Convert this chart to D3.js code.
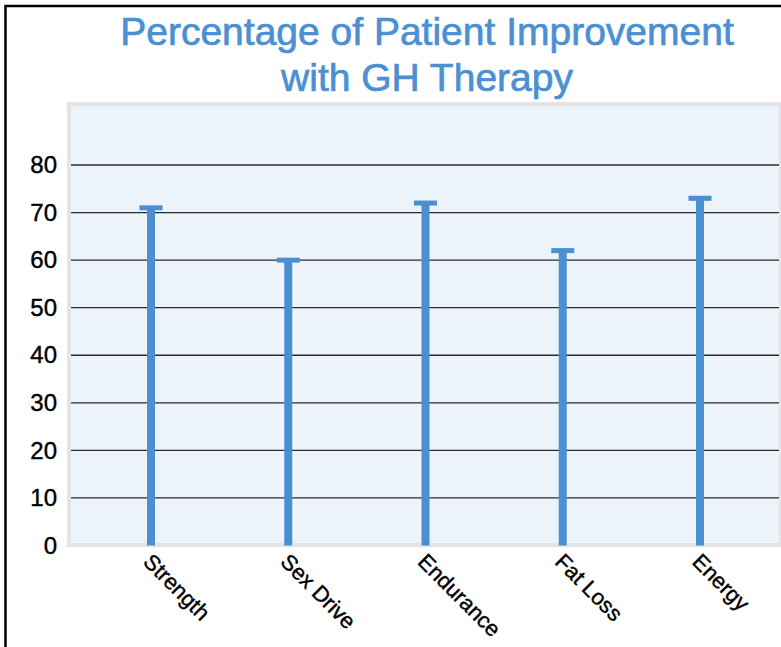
<!DOCTYPE html>
<html>
<head>
<meta charset="utf-8">
<script src="https://cdn.jsdelivr.net/npm/d3@7"></script>
<style>
  body { margin: 0; background: #fff; }
  svg { display: block; font-family: "Liberation Sans", Arial, Helvetica, sans-serif; }
</style>
</head>
<body>
<div id="chart"></div>
<script>
var categories = ["Strength", "Sex Drive", "Endurance", "Fat Loss", "Energy"];
var improvement = [71, 60, 72, 62, 73];
var yTicks = [0, 10, 20, 30, 40, 50, 60, 70, 80];
var titleLines = ["Percentage of Patient Improvement", "with GH Therapy"];

var fullwidth = 781,
    fullheight = 647;

var svg = d3.select("#chart")
            .append("svg")
            .attr("width", fullwidth)
            .attr("height", fullheight);

// outer frame (only left + top edges fall inside the picture)
svg.append("rect")
    .attr("x", 5.5)
    .attr("y", 6)
    .attr("width", 900)
    .attr("height", 800)
    .attr("fill", "none")
    .attr("stroke", "#000")
    .attr("stroke-width", 2.5);

// title
svg.append("g")
    .selectAll("text")
    .data(titleLines)
    .enter()
    .append("text")
    .attr("x", 427)
    .attr("y", function(d, i) { return 45 + i * 46; })
    .attr("text-anchor", "middle")
    .attr("fill", "#4a90d2")
    .attr("stroke", "#4a90d2")
    .attr("stroke-width", 0.7)
    .style("font-size", "39px")
    .text(function(d) { return d; });

// plot background
svg.append("rect")
    .attr("x", 69)
    .attr("y", 104)
    .attr("width", 712)
    .attr("height", 441)
    .attr("fill", "#edf3fa")
    .attr("stroke", "#e4e4e4")
    .attr("stroke-width", 4);

var yScale = d3.scaleLinear()
                .domain([0, 80])
                .range([545.5, 165]);

var xScale = d3.scalePoint()
                .domain(categories)
                .range([151, 700]);

// gridlines
svg.append("g")
    .selectAll("line")
    .data(yTicks.filter(function(d) { return d > 0; }))
    .enter()
    .append("line")
    .attr("x1", 71)
    .attr("x2", 779)
    .attr("y1", function(d) { return yScale(d); })
    .attr("y2", function(d) { return yScale(d); })
    .attr("stroke", "#2b2b2b")
    .attr("stroke-width", 1.3);

// y axis labels
var yAxis = d3.axisLeft(yScale)
                .tickValues(yTicks)
                .tickSize(0)
                .tickPadding(13);

var yg = svg.append("g")
    .attr("transform", "translate(70,0)")
    .call(yAxis);
yg.select(".domain").remove();
yg.selectAll("text")
    .attr("fill", "#000")
    .attr("stroke", "#000")
    .attr("stroke-width", 0.4)
    .style("font-size", "24px")
    .style("font-family", "'Liberation Sans', Arial, sans-serif");

// bars (thin stems with caps)
var bars = svg.append("g")
    .selectAll("g")
    .data(categories)
    .enter()
    .append("g");

bars.append("rect")
    .attr("x", function(d) { return xScale(d) - 4; })
    .attr("width", 8)
    .attr("y", function(d, i) { return yScale(improvement[i]); })
    .attr("height", function(d, i) { return yScale(0) - yScale(improvement[i]); })
    .attr("fill", "#4a8fcf");

bars.append("rect")
    .attr("x", function(d) { return xScale(d) - 11.5; })
    .attr("width", 23)
    .attr("y", function(d, i) { return yScale(improvement[i]) - 2.5; })
    .attr("height", 5)
    .attr("fill", "#4a8fcf");

// category labels
svg.append("g")
    .selectAll("text")
    .data(categories)
    .enter()
    .append("text")
    .attr("transform", function(d) {
        return "translate(" + (xScale(d) - 9) + ",563) rotate(45)";
    })
    .attr("fill", "#000")
    .attr("stroke", "#000")
    .attr("stroke-width", 0.4)
    .style("font-size", "22px")
    .text(function(d) { return d; });
</script>
</body>
</html>
